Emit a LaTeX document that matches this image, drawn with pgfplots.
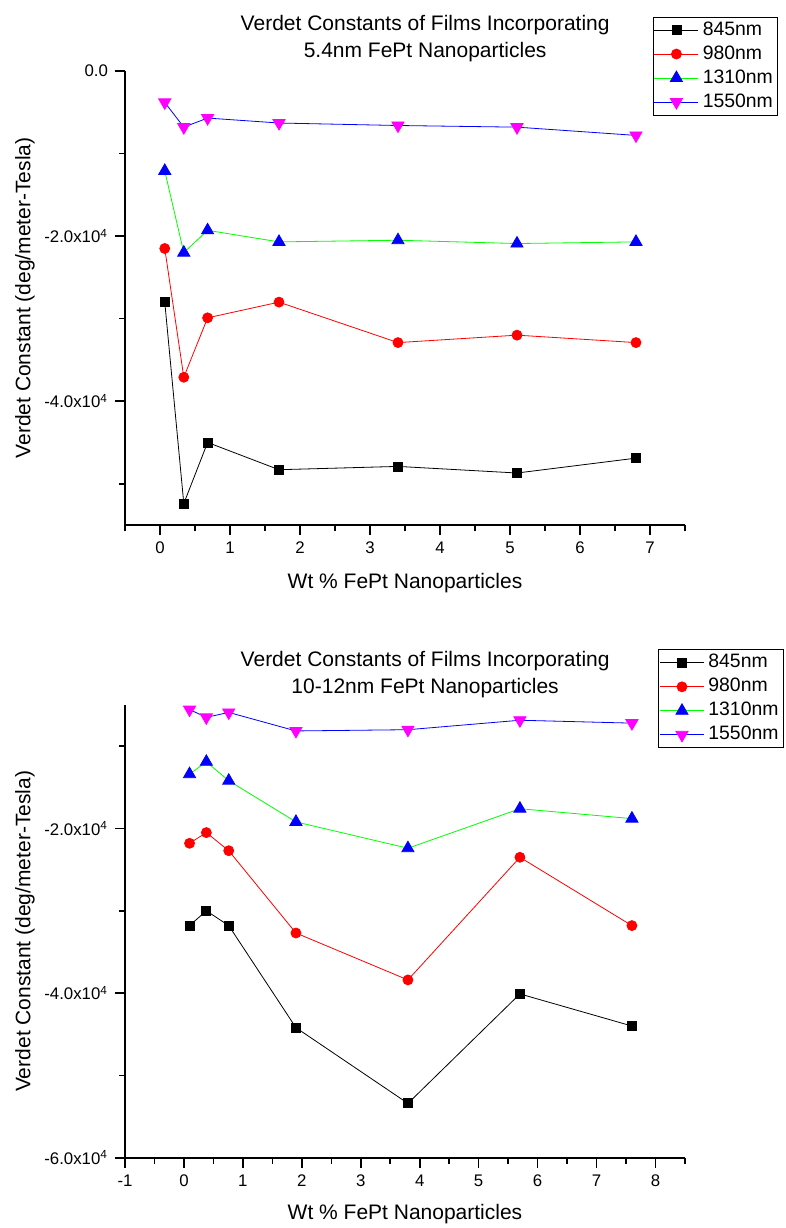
\documentclass[border=0pt]{standalone}
\usepackage{fontspec}
\setmainfont{Liberation Sans}
\usepackage{pgfplots}
\usepackage{pgfplotstable}
\pgfplotsset{compat=1.18}

\definecolor{mag}{RGB}{255,0,255}
\definecolor{grn}{RGB}{0,255,0}

% 5.4nm particles
\pgfplotstableread{
x     a      b      c      d
0.068 -28000 -21500 -12100 -3800
0.34  -52400 -37100 -22000 -6800
0.68  -45000 -29900 -19300 -5700
1.7   -48300 -28000 -20700 -6300
3.4   -47900 -32900 -20500 -6600
5.1   -48700 -32000 -20900 -6800
6.8   -46900 -32900 -20700 -7800
}\smalldata

% 10-12nm particles
\pgfplotstableread{
x     a      b      c      d
0.095 -31800 -21800 -13400 -5550
0.38  -30000 -20500 -11900 -6500
0.76  -31800 -22700 -14200 -5900
1.9   -44200 -32700 -19200 -8150
3.8   -53400 -38400 -22400 -8000
5.7   -40100 -23500 -17600 -6850
7.6   -44000 -31800 -18800 -7200
}\bigdata

\pgfplotsset{
  origin/.style={
    scale only axis, width=280pt,
    axis x line*=bottom, axis y line*=left,
    axis line style={-, line width=1pt},
    tick align=outside,
    major tick length=5pt, minor tick length=3pt,
    every tick/.style={black, line width=0.8pt},
    scaled y ticks=false,
    tick label style={font=\fontsize{8.4}{9.5}\selectfont},
    label style={font=\fontsize{10.5}{12}\selectfont},
    title style={font=\fontsize{10.5}{13.5}\selectfont, align=center, anchor=south, at={(0.536,1)}},
    xticklabel={\pgfmathprintnumber[assume math mode=true]{\tick}},
    ylabel={Verdet Constant (deg/meter-Tesla)},
    xlabel={Wt \% FePt Nanoparticles},
    ylabel style={at={(axis description cs:-0.1786,0.5)}, anchor=center},
    legend cell align=left,
    legend style={anchor=north west, draw=black, line width=0.5pt,
      font=\fontsize{9.7}{11}\selectfont, row sep=0pt, inner sep=0.5pt,
      nodes={inner sep=2pt, text height=6.5pt, text depth=1.5pt}},
    legend image code/.code={
      \draw[mark repeat=2, mark phase=2, #1] plot coordinates {(0pt,0pt) (11pt,0pt) (22pt,0pt)};
    },
    clip=false,
  },
  s845/.style={black, line width=0.4pt, mark=square*, mark size=2.25pt, mark options={fill=black}},
  s980/.style={red, line width=0.4pt, mark=*, mark size=2.5pt, mark options={fill=red, draw=red}},
  s1310/.style={grn, line width=0.4pt, mark=triangle*, mark size=3.5pt, mark options={fill=blue, draw=blue}},
  s1550/.style={blue, line width=0.4pt, mark=triangle*, mark size=3.5pt, mark options={fill=mag, draw=mag, rotate=180}},
}

\begin{document}
\begin{tikzpicture}
\useasboundingbox (0pt,0pt) rectangle (393pt,-614pt);

\begin{axis}[origin,
  at={(62.5pt,-262.5pt)}, anchor=south west,
  height=227pt,
  xmin=-0.5, xmax=7.5, ymin=-55000, ymax=0,
  xtick={0,1,...,7}, minor xtick={-0.5,0.5,...,7.5},
  ytick={-40000,-20000,0}, minor ytick={-50000,-30000,-10000},
  yticklabels={-4.0x10\textsuperscript{4},-2.0x10\textsuperscript{4},0.0},
  title={Verdet Constants of Films Incorporating\\5.4nm FePt Nanoparticles},
  title style={yshift=-4.75pt},
  xlabel style={at={(axis description cs:0.5,-0.127)}, anchor=center},
  legend style={at={(0.942,1.12)}},
]
\addplot[s845] table[x=x,y=a] {\smalldata};
\addplot[s980] table[x=x,y=b] {\smalldata};
\addplot[s1310] table[x=x,y=c] {\smalldata};
\addplot[s1550] table[x=x,y=d] {\smalldata};
\legend{845nm,980nm,1310nm,1550nm}
\end{axis}

\begin{axis}[origin,
  at={(62.5pt,-578.85pt)}, anchor=south west,
  height=226.35pt,
  xmin=-1, xmax=8.5, ymin=-60000, ymax=-5000,
  xtick={-1,0,...,8}, minor xtick={-0.5,0.5,...,8.5},
  ytick={-60000,-40000,-20000}, minor ytick={-50000,-30000,-10000},
  yticklabels={-6.0x10\textsuperscript{4},-4.0x10\textsuperscript{4},-2.0x10\textsuperscript{4}},
  title={Verdet Constants of Films Incorporating\\10-12nm FePt Nanoparticles},
  title style={yshift=-6pt},
  xlabel style={at={(axis description cs:0.5,-0.125)}, anchor=center},
  legend style={at={(0.952,1.123)}},
]
\addplot[s845] table[x=x,y=a] {\bigdata};
\addplot[s980] table[x=x,y=b] {\bigdata};
\addplot[s1310] table[x=x,y=c] {\bigdata};
\addplot[s1550] table[x=x,y=d] {\bigdata};
\legend{845nm,980nm,1310nm,1550nm}
\end{axis}
\end{tikzpicture}
\end{document}
